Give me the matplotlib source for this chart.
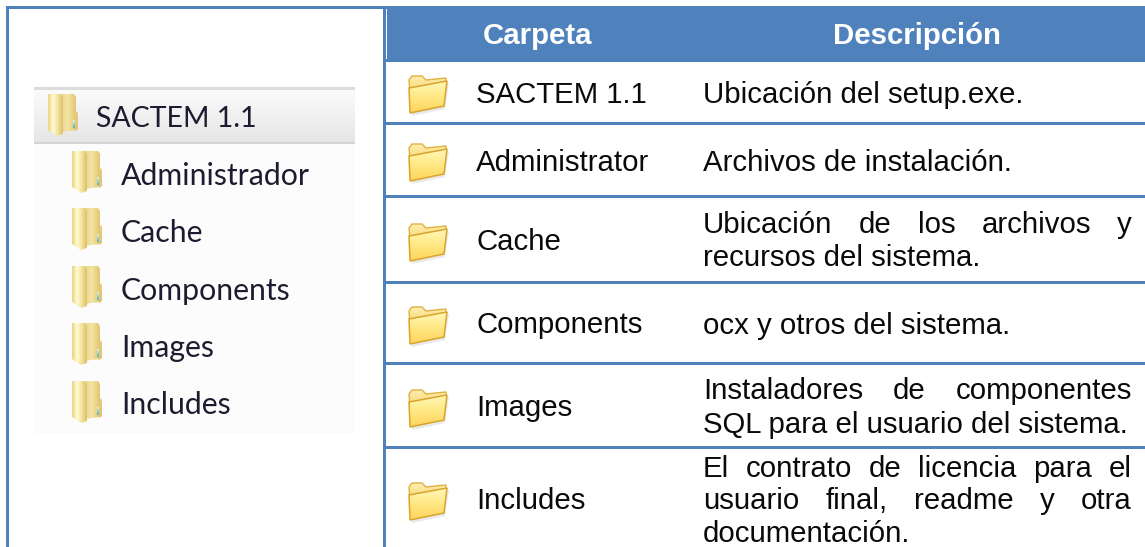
import numpy as np
import matplotlib
matplotlib.use("Agg")
import matplotlib.pyplot as plt
from matplotlib.patches import Polygon, Rectangle

HEADERS = ["Carpeta", "Descripción"]
TREE_ROOT = "SACTEM 1.1"
TREE_ITEMS = ["Administrador", "Cache", "Components", "Images", "Includes"]
FOLDERS = ["SACTEM 1.1", "Administrator", "Cache", "Components", "Images", "Includes"]
# (line text, justified?) per table row
DESCRIPTIONS = [
    [("Ubicación del setup.exe.", False)],
    [("Archivos de instalación.", False)],
    [("Ubicación de los archivos y", True), ("recursos del sistema.", False)],
    [("ocx y otros del sistema.", False)],
    [("Instaladores de componentes", True), ("SQL para el usuario del sistema.", False)],
    [("El contrato de licencia para el", True), ("usuario final, readme y otra", True),
     ("documentación.", False)],
]

BLUE = "#4f81bd"
W, H = 1145, 547
ROW_LINES = [123.5, 196.5, 282.5, 363.5, 447.5]
FOLDER_BASE = [103, 171, 250, 333, 416, 509]
FOLDER_ICON_TOP = [75, 143, 223, 306, 389, 482]
DESC_BASE = [[103], [171], [233, 266.5], [334], [399, 433], [477, 509, 542.5]]
TREE_BASE = [185, 242, 300, 357, 414]
TREE_ICON_TOP = [150, 207, 265, 322, 380]
BODY_SIZE = 21.2
TREE_FONT = ["Lato", "DejaVu Sans"]
TREE_SIZE = 21.8
ROOT_SIZE = 20.5
DESC_X, DESC_RIGHT = 703, 1132

plt.rcParams["font.family"] = ["Liberation Sans", "DejaVu Sans"]

fig = plt.figure(figsize=(W / 100, H / 100), dpi=100)
ax = fig.add_axes([0, 0, 1, 1])
ax.axis("off")


def rect(x0, y0, x1, y1, color, z=2):
    ax.add_patch(Rectangle((x0, y0), x1 - x0, y1 - y0, fc=color, ec="none", zorder=z))


def gradient(verts, colors, ec="none", z=3, horizontal=False, lw=0.0):
    # polygon filled by a clipped gradient through the given colours
    verts = np.array(verts, dtype=float)
    x0, y0 = verts.min(axis=0)
    x1, y1 = verts.max(axis=0)
    stops = np.array([matplotlib.colors.to_rgb(c) for c in colors])
    t = np.linspace(0, 1, 32)
    pos = np.linspace(0, 1, len(colors))
    img = np.stack([np.interp(t, pos, stops[:, i]) for i in range(3)], axis=1)
    img = img[None, :, :] if horizontal else img[:, None, :]
    im = ax.imshow(img, extent=(x0, x1, y1, y0), aspect="auto", zorder=z, interpolation="bilinear")
    poly = Polygon(verts, closed=True, fc="none", ec=ec, lw=lw, zorder=z + 0.1)
    ax.add_patch(poly)
    im.set_clip_path(poly)


def table_folder(x, y):
    # shadow, back sheet with tab, front flap
    ax.add_patch(Polygon([(x + 3, y + 15), (x + 41, y + 8), (x + 37, y + 34), (x + 4, y + 41)],
                         fc="#d0d0d0", ec="none", alpha=0.45, zorder=3))
    gradient([(x + 1, y + 5), (x + 4, y + 1), (x + 14, y + 1), (x + 18, y + 5), (x + 38, y + 3),
              (x + 38, y + 12), (x + 2, y + 18)], ["#ffeeb0", "#f6d66c"], "#e0b040", z=4, lw=1.0)
    gradient([(x + 1, y + 13), (x + 39, y + 6), (x + 36, y + 31), (x + 2, y + 38)],
             ["#fff8b4", "#ffe884", "#ffd45a"], "#d9a42e", z=5, lw=1.1)


def tree_folder(x, y):
    # back panel, right flap, then the pale front leaf
    gradient([(x + 28, y + 17), (x + 31, y + 20), (x + 31, y + 36), (x + 28, y + 38)],
             ["#e6cf84", "#e0c070"], z=3)
    gradient([(x + 12, y + 1), (x + 27, y + 1), (x + 29, y + 4), (x + 29, y + 37), (x + 12, y + 39)],
             ["#e6cd80", "#f3e6a4", "#e2c672"], z=4, horizontal=True)
    gradient([(x + 1, y + 1), (x + 12, y + 1), (x + 16, y + 4), (x + 16, y + 41), (x + 10, y + 43),
              (x + 1, y + 37)],
             ["#ecd383", "#fffbd4", "#f2e29c", "#dfc06a"], z=5, horizontal=True)
    gradient([(x + 26, y + 27), (x + 28, y + 27), (x + 28, y + 35), (x + 26, y + 35)],
             ["#e8f0e0", "#4fb0c8"], z=6)


def justified(line, x0, x1, base, size):
    # one Text per word, gaps stretched so the line reaches the right edge
    words = line.split(" ")
    renderer = fig.canvas.get_renderer()
    arts = [ax.text(x0, base, w, fontsize=size, color="#0a0a0a", ha="left", va="baseline", zorder=8)
            for w in words]
    widths = [a.get_window_extent(renderer).width for a in arts]
    gap = (x1 - x0 - sum(widths)) / (len(words) - 1)
    x = x0
    for a, wd in zip(arts, widths):
        a.set_x(x)
        x += wd + gap


# outer frame and column divider
rect(6, 6, 386, 9.3, BLUE)
rect(6, 6, 9.3, H, BLUE)
rect(383.3, 6, 386.3, H, BLUE)
rect(386, 6, W, 62, BLUE)
rect(386, 9, 387.3, 59, "white", z=3)
for y in ROW_LINES:
    rect(386, y - 1.5, W, y + 1.5, BLUE)

ax.text(537, 44, HEADERS[0], fontsize=BODY_SIZE, fontweight="bold", color="white",
        ha="center", va="baseline", zorder=8)
ax.text(917, 44, HEADERS[1], fontsize=BODY_SIZE, fontweight="bold", color="white",
        ha="center", va="baseline", zorder=8)

for name, base, top in zip(FOLDERS, FOLDER_BASE, FOLDER_ICON_TOP):
    table_folder(408, top)
    ax.text(476, base, name, fontsize=BODY_SIZE, color="#0a0a0a", ha="left", va="baseline", zorder=8)

fig.canvas.draw()
for lines, bases in zip(DESCRIPTIONS, DESC_BASE):
    for (line, just), base in zip(lines, bases):
        if just:
            justified(line, DESC_X, DESC_RIGHT, base, BODY_SIZE)
        else:
            ax.text(DESC_X, base, line, fontsize=BODY_SIZE, color="#0a0a0a",
                    ha="left", va="baseline", zorder=8)

# explorer tree screenshot
rect(34, 87, 355, 434, "#fcfcfc", z=1)
gradient([(34, 89), (355, 89), (355, 142), (34, 142)], ["#fbfbfb", "#e6e6e6"], z=2)
rect(34, 87, 355, 89.5, "#dcdcdc", z=3)
rect(34, 141.5, 355, 144, "#d4d4d4", z=3)
tree_folder(47, 93)
ax.text(96, 127, TREE_ROOT, fontsize=ROOT_SIZE, family=TREE_FONT, color="#1c1c30",
        ha="left", va="baseline", zorder=8)
for name, base, top in zip(TREE_ITEMS, TREE_BASE, TREE_ICON_TOP):
    tree_folder(71, top)
    ax.text(121, base, name, fontsize=TREE_SIZE, family=TREE_FONT, color="#1c1c30",
            ha="left", va="baseline", zorder=8)

ax.set_xlim(0, W)
ax.set_ylim(H, 0)
fig.savefig("out.png", dpi=100, facecolor="white")
